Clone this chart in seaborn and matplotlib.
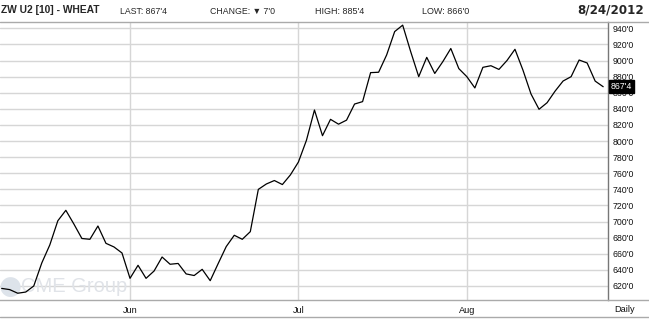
import numpy as np
import pandas as pd
import matplotlib
matplotlib.use("Agg")
import matplotlib.pyplot as plt
import seaborn as sns
from matplotlib.ticker import FuncFormatter
from matplotlib.lines import Line2D

# ---- data (trading-day index relative to Jun 1, 2012) ----
day_index = list(range(-16, 60))
prices = [
    617, 615.5, 611, 612.5, 620, 648.6, 671, 701, 714, 697, 679, 678, 694.5, 673, 668.5, 661,   # May
    629.5, 645.7, 629.5, 638.6, 656, 647, 648, 635, 633, 640.7, 626.6, 648, 669, 683, 678,
    687.5, 740, 746.7, 751, 746, 758,                                                       # Jun
    774, 801, 838.6, 806.7, 827, 821, 826, 846, 849, 885, 885.5, 907, 936, 944, 911, 880,
    904, 884, 898.6, 915, 890,                                                              # Jul
    880, 866, 891.6, 893.6, 889, 900, 914, 888, 858.5, 839.5, 847.6, 862, 874.6, 880,
    900.7, 897, 874.5, 867.5,                                                               # Aug
]
month_ticks = [0, 21, 42]
month_labels = ["Jun", "Jul", "Aug"]
y_ticks = list(range(620, 941, 20))

title = "ZW U2 [10] - WHEAT"
last_txt = "LAST: 867'4"
change_txt = "CHANGE: \u25bc 7'0"
high_txt = "HIGH: 885'4"
low_txt = "LOW: 866'0"
date_txt = "8/24/2012"
last_label = "867'4"

df = pd.DataFrame({"idx": day_index, "price": prices})

sns.set_style("white")
plt.rcParams["font.family"] = ["Liberation Sans", "DejaVu Sans"]

W, H = 649, 321
fig = plt.figure(figsize=(W / 100, H / 100), dpi=100)
fig.patch.set_facecolor("white")

def fx(px):
    return px / W

def fy(py):
    return 1 - py / H

ax = fig.add_axes([0, fy(300), fx(608), (300 - 22) / H])
sns.lineplot(data=df, x="idx", y="price", ax=ax, color="black", linewidth=0.9, zorder=3)

ax.set_xlim(-16.21, 59.6)
ax.set_ylim(602.6, 947.9)
ax.set_xlabel("")
ax.set_ylabel("")

ax.set_yticks(y_ticks)
ax.yaxis.tick_right()
ax.yaxis.set_major_formatter(FuncFormatter(lambda v, p: f"{int(round(v))}'0"))
ax.tick_params(axis="y", length=0, pad=3, labelsize=6.3, colors="#111111")
ax.set_xticks(month_ticks)
ax.set_xticklabels(month_labels)
ax.tick_params(axis="x", length=0, pad=4, labelsize=6.6, colors="#111111")

ax.grid(True, color="#d6d6d6", linewidth=1.0)
ax.set_axisbelow(True)
for s in ["top", "left"]:
    ax.spines[s].set_visible(False)
ax.spines["right"].set_color("#777777")
ax.spines["right"].set_linewidth(1.0)
ax.spines["bottom"].set_color("#aaaaaa")
ax.spines["bottom"].set_linewidth(1.0)

# frame lines on figure
fig.add_artist(Line2D([0, 1], [fy(22), fy(22)], color="#aaaaaa", lw=1.0))
fig.add_artist(Line2D([fx(608), 1], [fy(300), fy(300)], color="#aaaaaa", lw=1.0))
fig.add_artist(Line2D([0, 1], [fy(316.5), fy(316.5)], color="#aaaaaa", lw=1.0))

# watermark (behind the price line)
ax.text(fx(-1), fy(287), "\u25cf", fontsize=19, color="#dde3ea", va="center", ha="left",
        family=["DejaVu Sans"], transform=fig.transFigure, zorder=1)
ax.text(fx(21), fy(287), "CME Group", fontsize=14.5, color="#e0e3e8", va="center", ha="left",
        transform=fig.transFigure, zorder=1)

# header
fig.text(fx(1), fy(10), title, fontsize=7.4, fontweight="bold", va="center", ha="left",
         family=["Liberation Sans", "DejaVu Sans"])
fig.text(fx(120), fy(11), last_txt, fontsize=6.3, va="center", ha="left")
fig.text(fx(210), fy(11), change_txt, fontsize=6.3, va="center", ha="left",
         family=["Liberation Sans", "DejaVu Sans"])
fig.text(fx(315), fy(11), high_txt, fontsize=6.5, va="center", ha="left")
fig.text(fx(422), fy(11), low_txt, fontsize=6.5, va="center", ha="left")
fig.text(fx(644), fy(10), date_txt, fontsize=8.6, fontweight="bold", va="center", ha="right",
         family=["DejaVu Sans"])

# bottom right label
fig.text(fx(625), fy(309), "Daily", fontsize=6.6, va="center", ha="center", color="#111111")

# last price box (covers the 860'0 label as in the original)
ax.annotate(last_label, xy=(1.0, prices[-1]), xycoords=("axes fraction", "data"),
            xytext=(2, 0), textcoords="offset points", va="center", ha="left",
            fontsize=6.3, color="white", zorder=10,
            bbox=dict(boxstyle="square,pad=0.2", fc="black", ec="black"),
            annotation_clip=False)

fig.savefig("out.png", dpi=100)
